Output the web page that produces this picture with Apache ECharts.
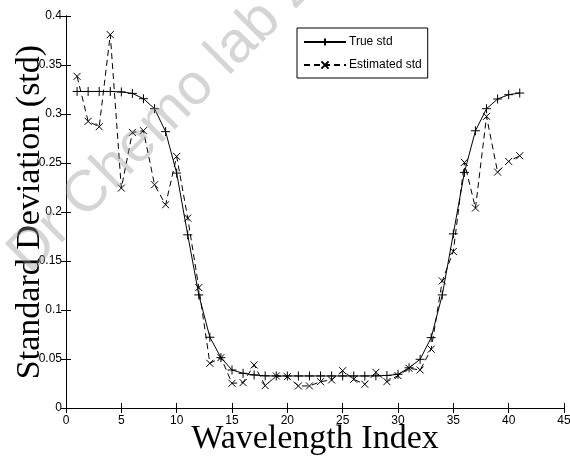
<!DOCTYPE html>
<html>
<head>
<meta charset="utf-8">
<script src="https://cdn.jsdelivr.net/npm/echarts@6/dist/echarts.min.js"></script>
<style>
  html, body { margin: 0; padding: 0; background: #fff; }
  #chart { width: 570px; height: 457px; }
</style>
</head>
<body>
<div id="chart"></div>
<script>
  // wavelength index 1..41
  const wavelengthIndex = [1, 2, 3, 4, 5, 6, 7, 8, 9, 10, 11, 12, 13, 14, 15, 16, 17, 18, 19, 20,
    21, 22, 23, 24, 25, 26, 27, 28, 29, 30, 31, 32, 33, 34, 35, 36, 37, 38, 39, 40, 41];
  const trueStd = [0.323, 0.323, 0.323, 0.323, 0.3225, 0.321, 0.3156, 0.3054, 0.282, 0.2397,
    0.1767, 0.1154, 0.0722, 0.0514, 0.0388, 0.0354, 0.0337, 0.0328, 0.0327, 0.0327,
    0.0327, 0.0327, 0.0327, 0.0327, 0.0327, 0.0327, 0.0327, 0.0328, 0.0332, 0.0344,
    0.041, 0.0497, 0.0718, 0.1154, 0.1777, 0.2404, 0.2829, 0.3054, 0.3153, 0.3197, 0.3214];
  const estimatedStd = [0.3384, 0.2925, 0.287, 0.381, 0.2244, 0.2812, 0.283, 0.2278, 0.2074, 0.2567,
    0.1938, 0.1229, 0.0456, 0.0514, 0.0252, 0.0259, 0.0439, 0.0228, 0.0327, 0.032,
    0.0225, 0.0225, 0.0269, 0.0286, 0.0381, 0.0293, 0.0242, 0.0364, 0.0269, 0.033,
    0.0405, 0.0388, 0.06, 0.1297, 0.1597, 0.2506, 0.204, 0.2976, 0.2407, 0.2516, 0.2574];
  const seriesNames = ['True std', 'Estimated std'];

  const plusSymbol = 'path://M0,5H10M5,0V10';
  const crossSymbol = 'path://M0,0L10,10M10,0L0,10';

  const chart = echarts.init(document.getElementById('chart'), null, { renderer: 'canvas' });

  const tickFont = { fontFamily: 'Liberation Sans', fontSize: 12, color: '#000' };
  const boxAxis = {
    axisLine: { show: true, lineStyle: { color: '#000', width: 1 } },
    axisTick: { show: true, inside: true, length: 5, lineStyle: { color: '#000' } },
    splitLine: { show: false }
  };

  const option = {
    backgroundColor: '#fff',
    animation: false,
    grid: { left: 66, right: 6, top: 16, bottom: 49, outerBoundsMode: 'none', containLabel: false },
    legend: {
      data: seriesNames,
      orient: 'vertical',
      left: 297,
      top: 28,
      padding: [8, 6, 7, 6],
      itemWidth: 42,
      itemHeight: 9,
      itemGap: 11,
      borderColor: '#000',
      borderWidth: 1,
      backgroundColor: '#fff',
      textStyle: { fontFamily: 'Liberation Sans', fontSize: 12, color: '#000', padding: [0, 0, 0, -2] }
    },
    xAxis: [
      Object.assign({
        type: 'value', min: 0, max: 45, interval: 5, position: 'bottom',
        name: 'Wavelength Index', nameLocation: 'middle', nameGap: 14, nameMoveOverlap: false,
        nameTextStyle: { fontFamily: 'Liberation Serif', fontSize: 34, color: '#000' },
        axisLabel: Object.assign({ margin: 7 }, tickFont)
      }, boxAxis),
      Object.assign({
        type: 'value', min: 0, max: 45, interval: 5, position: 'top',
        axisLabel: { show: false }
      }, boxAxis)
    ],
    yAxis: [
      Object.assign({
        type: 'value', min: 0, max: 0.4, interval: 0.05, position: 'left',
        name: 'Standard Deviation (std)', nameLocation: 'middle', nameGap: 19, nameRotate: 90,
        nameMoveOverlap: false,
        nameTextStyle: { fontFamily: 'Liberation Serif', fontSize: 34, color: '#000' },
        axisLabel: Object.assign({ margin: 4 }, tickFont)
      }, boxAxis),
      Object.assign({
        type: 'value', min: 0, max: 0.4, interval: 0.05, position: 'right',
        axisLabel: { show: false }
      }, boxAxis)
    ],
    graphic: [{
      type: 'text',
      x: 162, y: 120,
      rotation: Math.PI / 4,
      z: 100,
      silent: true,
      style: {
        text: 'Dr Chemo lab 2',
        font: '58px Liberation Sans',
        fill: 'rgba(150,150,150,0.4)',
        align: 'center',
        verticalAlign: 'middle'
      }
    }],
    series: [
      {
        name: seriesNames[0],
        type: 'line',
        data: wavelengthIndex.map((x, i) => [x, trueStd[i]]),
        symbol: plusSymbol,
        symbolSize: 9,
        showAllSymbol: true,
        lineStyle: { color: '#000', width: 1 },
        itemStyle: { color: '#000', borderColor: '#000', borderWidth: 1 },
        z: 3
      },
      {
        name: seriesNames[1],
        type: 'line',
        data: wavelengthIndex.map((x, i) => [x, estimatedStd[i]]),
        symbol: crossSymbol,
        symbolSize: 7,
        showAllSymbol: true,
        lineStyle: { color: '#000', width: 1, type: [6, 4] },
        itemStyle: { color: '#000', borderColor: '#000', borderWidth: 1 },
        z: 2
      }
    ]
  };

  chart.setOption(option);
  window.addEventListener('resize', function () {
    chart.resize();
  });
</script>
</body>
</html>
